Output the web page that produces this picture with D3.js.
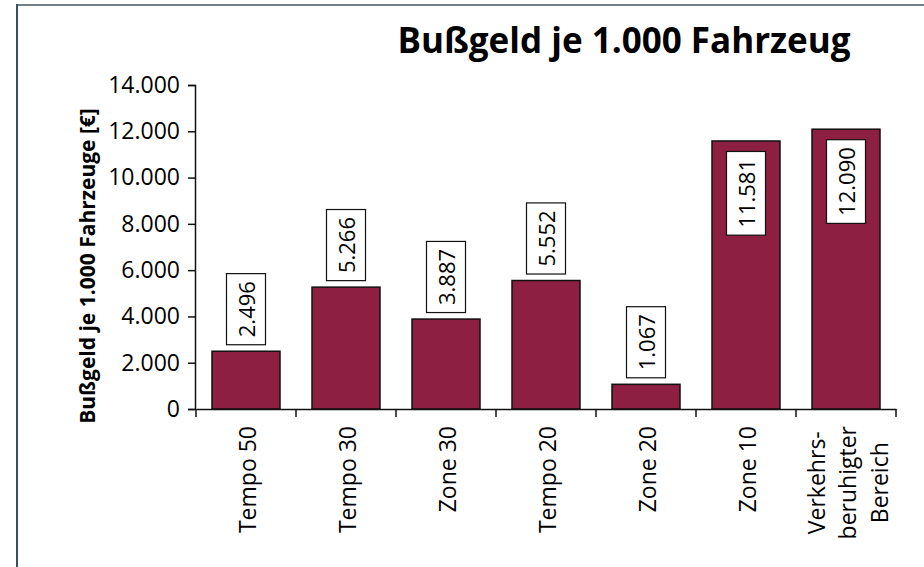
<!DOCTYPE html>
<html>
<head>
<meta charset="utf-8">
<script src="https://cdn.jsdelivr.net/npm/d3@7"></script>
<style>
  body { margin: 0; background: #fff; }
  svg { display: block; font-family: "Open Sans", sans-serif; }
</style>
</head>
<body>
<div id="chart"></div>
<script>
  // chart data
  var categories = ["Tempo 50", "Tempo 30", "Zone 30", "Tempo 20", "Zone 20", "Zone 10", "Verkehrs-|beruhigter|Bereich"];
  var values = [2496, 5266, 3887, 5552, 1067, 11581, 12090];
  var yTicks = [0, 2000, 4000, 6000, 8000, 10000, 12000, 14000];

  var svgWidth = 924;
  var svgHeight = 567;

  var svg = d3.select("#chart")
    .append("svg")
    .attr("width", svgWidth)
    .attr("height", svgHeight);

  // frame of the chart object
  svg.append("line")
    .attr("x1", 17).attr("y1", 5).attr("x2", svgWidth).attr("y2", 5)
    .attr("stroke", "#6f8088").attr("stroke-width", 2);
  svg.append("line")
    .attr("x1", 17).attr("y1", 4).attr("x2", 17).attr("y2", svgHeight)
    .attr("stroke", "#3d505a").attr("stroke-width", 2);

  var fmt = function(v) {
    return d3.format(",")(v).replace(/,/g, ".");
  };

  // scales
  var xScale = d3.scaleBand()
    .domain(categories)
    .range([196, 896])
    .paddingInner(0.32)
    .paddingOuter(0.16);

  var yScale = d3.scaleLinear()
    .domain([0, 14000])
    .range([409, 85]);

  // title
  svg.append("text")
    .attr("x", 624)
    .attr("y", 53)
    .attr("text-anchor", "middle")
    .attr("font-size", "35px")
    .attr("font-weight", "bold")
    .text("Bußgeld je 1.000 Fahrzeug");

  // y axis title
  svg.append("text")
    .attr("transform", "translate(95, 266) rotate(-90)")
    .attr("text-anchor", "middle")
    .attr("font-size", "21px")
    .attr("font-weight", "bold")
    .text("Bußgeld je 1.000 Fahrzeuge [€]");

  // bars
  var data = categories.map(function(c, i) { return { cat: c, value: values[i] }; });

  svg.selectAll("rect.bar")
    .data(data)
    .enter()
    .append("rect")
    .attr("class", "bar")
    .attr("x", d => xScale(d.cat))
    .attr("y", d => yScale(d.value))
    .attr("width", xScale.bandwidth())
    .attr("height", d => yScale(0) - yScale(d.value))
    .attr("fill", "#8c1f42")
    .attr("stroke", "#111")
    .attr("stroke-width", 1.5);

  // y axis
  var yAxis = d3.axisLeft(yScale)
    .tickValues(yTicks)
    .tickSize(7)
    .tickPadding(8)
    .tickFormat(fmt);

  var yG = svg.append("g")
    .attr("transform", "translate(195, 0)")
    .call(yAxis);
  yG.select(".domain").attr("stroke", "#111").attr("stroke-width", 1.5);
  yG.selectAll(".tick line").attr("stroke", "#111").attr("stroke-width", 1.5);
  yG.selectAll(".tick text")
    .attr("font-size", "23px")
    .attr("font-family", "Open Sans")
    .attr("fill", "#000");

  // x axis line + boundary ticks
  var xAxis = d3.axisBottom(xScale).tickSize(0).tickFormat("");
  var xG = svg.append("g")
    .attr("transform", "translate(0, 409)")
    .call(xAxis);
  xG.select(".domain").attr("stroke", "#111").attr("stroke-width", 1.5);

  var bounds = categories.map(c => xScale(c) - xScale.step() * 0.16);
  bounds.push(896);
  xG.selectAll("line.bound")
    .data(bounds)
    .enter()
    .append("line")
    .attr("class", "bound")
    .attr("x1", d => d).attr("x2", d => d)
    .attr("y1", 0).attr("y2", 8)
    .attr("stroke", "#111")
    .attr("stroke-width", 1.5);

  // category labels (rotated)
  var lineGap = 31.5;
  categories.forEach(function(c) {
    var lines = c.split("|");
    var cx = xScale(c) + xScale.bandwidth() / 2;
    var g = svg.append("g");
    var texts = lines.map(function(l, i) {
      var off = (i - (lines.length - 1) / 2) * lineGap;
      return g.append("text")
        .attr("font-size", "23px")
        .attr("fill", "#000")
        .attr("data-x", cx + 10 + off)
        .text(l);
    });
    if (lines.length === 1) {
      texts[0]
        .attr("text-anchor", "end")
        .attr("transform", "translate(" + (cx + 10) + ", 426) rotate(-90)");
    } else {
      var maxLen = d3.max(texts, t => t.node().getComputedTextLength());
      texts.forEach(function(t) {
        t.attr("text-anchor", "middle")
          .attr("transform", "translate(" + t.attr("data-x") + ", " + (426 + maxLen / 2) + ") rotate(-90)");
      });
    }
  });

  // data labels in white boxes
  data.forEach(function(d) {
    var cx = xScale(d.cat) + xScale.bandwidth() / 2;
    var top = yScale(d.value);
    var g = svg.append("g");
    var box = g.append("rect")
      .attr("fill", "#fff")
      .attr("stroke", "#111")
      .attr("stroke-width", 1.2);
    var t = g.append("text")
      .attr("font-size", "22px")
      .attr("fill", "#000")
      .attr("text-anchor", "middle")
      .text(fmt(d.value));
    var len = t.node().getComputedTextLength();
    var boxH = len + 15;
    var boxW = 39;
    var boxTop = d.value > 10000 ? top + 10.5 : top - 6.5 - boxH;
    box.attr("x", cx - boxW / 2)
      .attr("y", boxTop)
      .attr("width", boxW)
      .attr("height", boxH);
    t.attr("transform", "translate(" + (cx + 9) + ", " + (boxTop + boxH / 2) + ") rotate(-90)");
  });
</script>
</body>
</html>
